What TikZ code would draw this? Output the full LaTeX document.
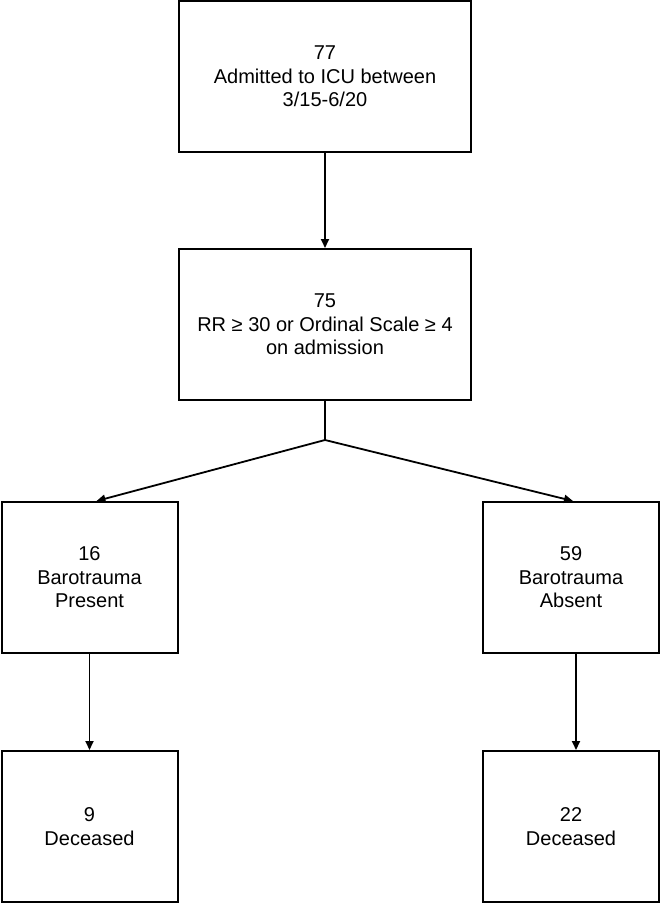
\documentclass[tikz,border=0pt]{standalone}
\usepackage{fontspec}
\setmainfont{Liberation Sans}
\usepackage{tikz}
\usetikzlibrary{arrows.meta}

\tikzset{
    stagebox/.style={draw, line width=2pt, rectangle, align=center,
        font=\fontsize{20}{23.5}\selectfont, inner sep=0pt},
    wide/.style={stagebox, minimum width=292pt, minimum height=151pt},
    narrow/.style={stagebox, minimum width=176pt, minimum height=151pt},
    flow/.style={line width=1.8pt, -{Triangle[length=9pt,width=8pt]}},
}

\begin{document}
\begin{tikzpicture}[x=1pt, y=-1pt]
        \useasboundingbox (0,0) rectangle (660,905);

        \node[wide] (icu) at (325,76.5) {77\\Admitted to ICU between\\3/15-6/20};
        \node[wide] (crit) at (325,324.5) {75\\RR ≥ 30 or Ordinal Scale ≥ 4\\on admission};
        \node[narrow] (present) at (89.5,577.5) {16\\Barotrauma\\Present};
        \node[narrow] (absent) at (571,577.5) {59\\Barotrauma\\Absent};
        \node[narrow] (deadp) at (89.5,826.5) {9\\Deceased};
        \node[narrow] (deada) at (571,826.5) {22\\Deceased};
        \coordinate (split) at (325,440);

        \draw[flow] (icu) -- (crit);
        \draw[line width=1.8pt] (crit) -- (split);
        \draw[flow] (split) -- ([xshift=7pt]present.north);
        \draw[flow] (split) -- ([xshift=2pt]absent.north);
        \draw[flow] (present) -- (deadp);
        \draw[flow] ([xshift=5pt]absent.south) -- ([xshift=5pt]deada.north);
\end{tikzpicture}
\end{document}
